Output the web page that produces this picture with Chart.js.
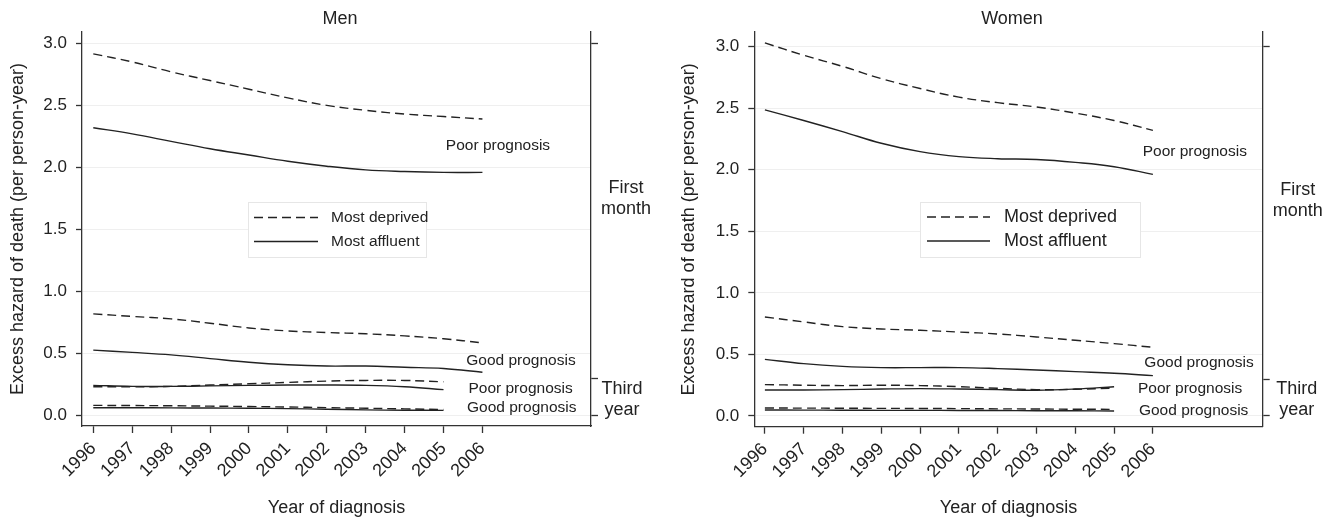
<!DOCTYPE html>
<html><head><meta charset="utf-8">
<script src="https://cdn.jsdelivr.net/npm/chart.js@4/dist/chart.umd.min.js"></script>
<style>
html,body{margin:0;padding:0;background:#fff;width:1343px;height:519px;overflow:hidden}
canvas{position:absolute;top:0}
</style></head>
<body>
<canvas id="men" width="671" height="519" style="left:0"></canvas>
<canvas id="women" width="672" height="519" style="left:671px"></canvas>
<script>
// ---------- data ----------
const years = [1996,1997,1998,1999,2000,2001,2002,2003,2004,2005,2006];
const yearsTo2005 = [1996,1997,1998,1999,2000,2001,2002,2003,2004,2005];
const yTicks = [0,0.5,1,1.5,2,2.5,3];
const bracketTicks = [0,0.3,3.0];
const legendLabels = ['Most deprived','Most affluent'];

// Men
const menDeprivedPoorMonth  = [2.915,2.85,2.77,2.70,2.63,2.56,2.50,2.46,2.43,2.41,2.39];
const menAffluentPoorMonth  = [2.32,2.27,2.21,2.15,2.10,2.05,2.01,1.98,1.967,1.96,1.96];
const menDeprivedGoodMonth  = [0.82,0.80,0.78,0.745,0.707,0.683,0.67,0.66,0.643,0.62,0.587];
const menAffluentGoodMonth  = [0.528,0.51,0.49,0.46,0.43,0.41,0.40,0.40,0.39,0.38,0.35];
const menDeprivedPoorYear3  = [0.233,0.233,0.236,0.247,0.257,0.268,0.279,0.284,0.284,0.273];
const menAffluentPoorYear3  = [0.244,0.236,0.236,0.24,0.244,0.247,0.247,0.244,0.233,0.21];
const menDeprivedGoodYear3  = [0.083,0.082,0.08,0.077,0.074,0.07,0.065,0.06,0.055,0.05];
const menAffluentGoodYear3  = [0.064,0.064,0.063,0.062,0.06,0.057,0.052,0.047,0.044,0.043];

// Women
const womenDeprivedPoorMonth = [3.03,2.93,2.84,2.74,2.66,2.59,2.545,2.51,2.46,2.40,2.32];
const womenAffluentPoorMonth = [2.486,2.40,2.31,2.215,2.147,2.107,2.09,2.083,2.06,2.025,1.963];
const womenDeprivedGoodMonth = [0.804,0.764,0.726,0.707,0.696,0.682,0.666,0.642,0.615,0.588,0.558];
const womenAffluentGoodMonth = [0.46,0.425,0.403,0.393,0.393,0.393,0.385,0.374,0.36,0.347,0.328];
const womenDeprivedPoorYear3 = [0.255,0.25,0.247,0.25,0.247,0.238,0.225,0.214,0.217,0.227];
const womenAffluentPoorYear3 = [0.211,0.211,0.214,0.219,0.222,0.219,0.214,0.209,0.219,0.238];
const womenDeprivedGoodYear3 = [0.065,0.064,0.063,0.062,0.061,0.06,0.058,0.057,0.055,0.054];
const womenAffluentGoodYear3 = [0.049,0.048,0.047,0.046,0.046,0.045,0.044,0.043,0.042,0.041];

// ---------- helpers ----------
const FONT = "'Liberation Sans', Arial, Helvetica, sans-serif";
const INK = '#222';
const AXIS = '#333';
function pts(xs, ys){ return ys.map((v,i)=>({x:xs[i], y:v})); }
function ds(label, xs, ys, dashed){
  return {label, data: pts(xs, ys), borderColor: INK, borderWidth: 1.4,
    borderDash: dashed ? [9,5] : [], pointRadius: 0, tension: 0.4, fill: false};
}

const panelPlugin = {
  id: 'panelText',
  afterDraw(chart, args, opts){
    const ctx = chart.ctx;
    const xs = chart.scales.x, ys = chart.scales.y;
    const ca = chart.chartArea;
    ctx.save();
    ctx.fillStyle = INK;
    ctx.textBaseline = 'middle';
    ctx.textAlign = 'center';
    // title
    ctx.font = `18px ${FONT}`;
    ctx.fillText(opts.title, opts.titleX, opts.titleY);
    // prognosis annotations
    ctx.font = `15.5px ${FONT}`;
    opts.notes.forEach(n => ctx.fillText(n.text, xs.getPixelForValue(n.x), ys.getPixelForValue(n.y)));
    // bracket labels
    ctx.font = `18px ${FONT}`;
    opts.brackets.forEach(b => {
      const cy = ys.getPixelForValue(b.y);
      ctx.fillText(b.lines[0], ca.right + b.dx, cy - 10.5);
      ctx.fillText(b.lines[1], ca.right + b.dx, cy + 10.5);
    });
    // legend
    const L = opts.legend;
    ctx.fillStyle = '#fff';
    ctx.fillRect(L.x1, L.y1, L.x2 - L.x1, L.y2 - L.y1);
    ctx.strokeStyle = '#e6e6e6';
    ctx.lineWidth = 1;
    ctx.strokeRect(L.x1 + 0.5, L.y1 + 0.5, L.x2 - L.x1, L.y2 - L.y1);
    ctx.font = `${L.fontSize}px ${FONT}`;
    ctx.textAlign = 'left';
    legendLabels.forEach((lab, i) => {
      const y = L.rows[i];
      ctx.strokeStyle = INK;
      ctx.lineWidth = 1.4;
      ctx.setLineDash(i === 0 ? [9,5] : []);
      ctx.beginPath(); ctx.moveTo(L.s1, y); ctx.lineTo(L.s2, y); ctx.stroke();
      ctx.setLineDash([]);
      ctx.fillStyle = INK;
      ctx.fillText(lab, L.tx, y);
    });
    ctx.restore();
  }
};

function makePanel(id, p){
  const datasets = [
    ds(legendLabels[0], years, p.dpm, true),
    ds(legendLabels[1], years, p.apm, false),
    ds(legendLabels[0], years, p.dgm, true),
    ds(legendLabels[1], years, p.agm, false),
    ds(legendLabels[0], yearsTo2005, p.dpy, true),
    ds(legendLabels[1], yearsTo2005, p.apy, false),
    ds(legendLabels[0], yearsTo2005, p.dgy, true),
    ds(legendLabels[1], yearsTo2005, p.agy, false)
  ];
  new Chart(document.getElementById(id), {
    type: 'line',
    data: { datasets },
    plugins: [panelPlugin],
    options: {
      responsive: false, animation: false, events: [],
      layout: { padding: { top: 32, left: 0, right: 0, bottom: 0 } },
      plugins: {
        legend: { display: false }, tooltip: { enabled: false },
        panelText: p.text
      },
      scales: {
        x: {
          type: 'linear', min: p.xMin, max: p.xMax,
          afterBuildTicks: s => { s.ticks = years.map(v => ({value: v})); },
          afterFit: s => { s.height = p.xH; },
          grid: { drawOnChartArea: false, tickLength: 7, tickColor: AXIS, tickWidth: 1.3 },
          border: { color: AXIS, width: 1.3 },
          ticks: { autoSkip: false, minRotation: 45, maxRotation: 45, padding: 5,
                   color: INK, font: { family: FONT, size: 18 }, callback: v => String(v) },
          title: { display: true, text: 'Year of diagnosis', color: INK,
                   font: { family: FONT, size: 18 }, padding: { top: 0, bottom: 0 } }
        },
        y: {
          type: 'linear', position: 'left', min: p.yMin, max: p.yMax,
          afterBuildTicks: s => { s.ticks = yTicks.map(v => ({value: v})); },
          afterFit: s => { s.width = p.yW; },
          grid: { color: '#efefef', lineWidth: 1, tickLength: 6, tickColor: AXIS, tickWidth: 1.3 },
          border: { color: AXIS, width: 1.3 },
          ticks: { padding: 9, color: INK, font: { family: FONT, size: 17 },
                   callback: v => Number(v).toFixed(1) },
          title: { display: true, text: 'Excess hazard of death (per person-year)', color: INK,
                   font: { family: FONT, size: 18 }, padding: { top: 7, bottom: 0 } }
        },
        y2: {
          type: 'linear', position: 'right', min: p.yMin, max: p.yMax,
          afterBuildTicks: s => { s.ticks = bracketTicks.map(v => ({value: v})); },
          afterFit: s => { s.width = p.y2W; },
          grid: { drawOnChartArea: false, tickLength: 7, tickColor: AXIS, tickWidth: 1.3 },
          border: { color: AXIS, width: 1.3 },
          ticks: { display: false }
        }
      }
    }
  });
}

makePanel('men', {
  dpm: menDeprivedPoorMonth, apm: menAffluentPoorMonth,
  dgm: menDeprivedGoodMonth, agm: menAffluentGoodMonth,
  dpy: menDeprivedPoorYear3, apy: menAffluentPoorYear3,
  dgy: menDeprivedGoodYear3, agy: menAffluentGoodYear3,
  xMin: 1995.71, xMax: 2008.79, yMin: -0.083, yMax: 3.091,
  xH: 93, yW: 82, y2W: 80,
  text: {
    title: 'Men', titleX: 340, titleY: 19,
    notes: [
      {text: 'Poor prognosis', x: 2006.40, y: 2.173},
      {text: 'Good prognosis', x: 2006.99, y: 0.443},
      {text: 'Poor prognosis', x: 2006.98, y: 0.215},
      {text: 'Good prognosis', x: 2007.01, y: 0.064}
    ],
    brackets: [
      {lines: ['First','month'], y: 1.75, dx: 35},
      {lines: ['Third','year'], y: 0.13, dx: 31}
    ],
    legend: {x1: 248, y1: 202, x2: 426, y2: 257, s1: 254, s2: 318, tx: 331, rows: [217.5, 241.5], fontSize: 15.5}
  }
});

makePanel('women', {
  dpm: womenDeprivedPoorMonth, apm: womenAffluentPoorMonth,
  dgm: womenDeprivedGoodMonth, agm: womenAffluentGoodMonth,
  dpy: womenDeprivedPoorYear3, apy: womenAffluentPoorYear3,
  dgy: womenDeprivedGoodYear3, agy: womenAffluentGoodYear3,
  xMin: 1995.727, xMax: 2008.83, yMin: -0.087, yMax: 3.119,
  xH: 92.3, yW: 83.3, y2W: 80.3,
  text: {
    title: 'Women', titleX: 341, titleY: 19,
    notes: [
      {text: 'Poor prognosis', x: 2007.08, y: 2.145},
      {text: 'Good prognosis', x: 2007.19, y: 0.43},
      {text: 'Poor prognosis', x: 2006.96, y: 0.219},
      {text: 'Good prognosis', x: 2007.05, y: 0.041}
    ],
    brackets: [
      {lines: ['First','month'], y: 1.75, dx: 35},
      {lines: ['Third','year'], y: 0.13, dx: 34}
    ],
    legend: {x1: 249, y1: 202, x2: 469, y2: 257, s1: 256, s2: 319, tx: 333, rows: [217, 241], fontSize: 18}
  }
});
</script>
</body></html>
